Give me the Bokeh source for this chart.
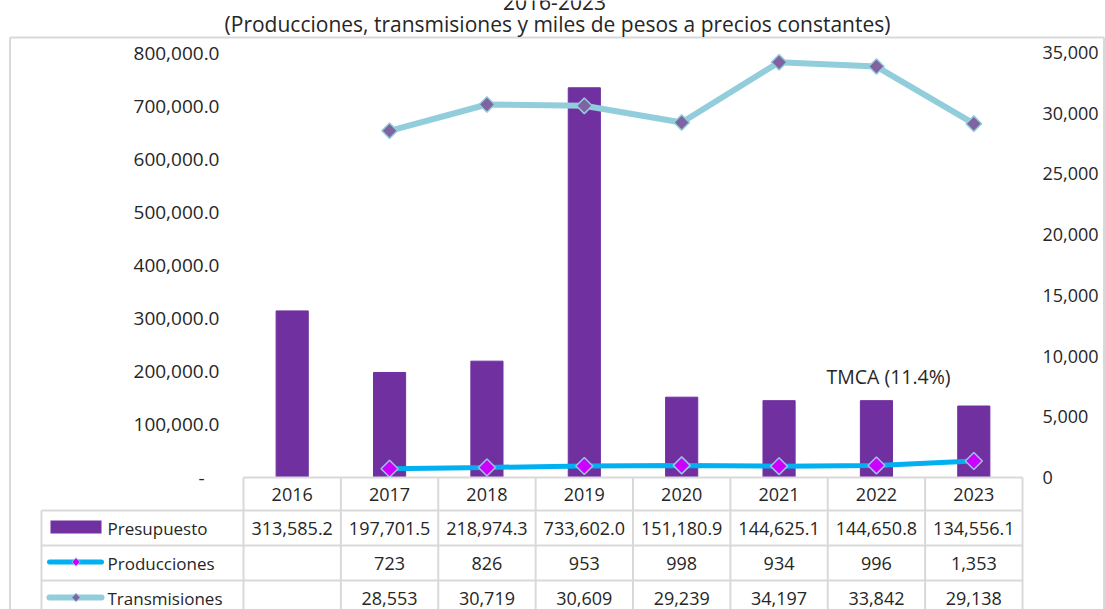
from bokeh.plotting import figure
from bokeh.models import Range1d, LinearAxis, FixedTicker, NumeralTickFormatter, ColumnDataSource
from bokeh.embed import file_html
from bokeh.resources import INLINE
from bokeh.core.properties import value

# ---------------- data ----------------
years = ["2016", "2017", "2018", "2019", "2020", "2021", "2022", "2023"]
presupuesto = [313585.2, 197701.5, 218974.3, 733602.0, 151180.9, 144625.1, 144650.8, 134556.1]
producciones = [None, 723, 826, 953, 998, 934, 996, 1353]
transmisiones = [None, 28553, 30719, 30609, 29239, 34197, 33842, 29138]
left_ticks = [0, 100000, 200000, 300000, 400000, 500000, 600000, 700000, 800000]
right_ticks = [0, 5000, 10000, 15000, 20000, 25000, 30000, 35000]
series_names = ["Presupuesto", "Producciones", "Transmisiones"]
title_text = "2016-2023"
subtitle_text = "(Producciones, transmisiones y miles de pesos a precios constantes)"
tmca_text = "TMCA (11.4%)"

# ---------------- style ----------------
FONT = "Open Sans"
TXT = "#262626"
GRID = "#D9D9D9"
C_BAR = "#7030A0"
C_PROD = "#00B0F0"
C_PROD_MK = "#CC00FF"
C_PROD_MK_LINE = "#9DC3E6"
C_TRANS = "#92CDDC"
C_TRANS_MK = "#8064A2"
FS = "18px"

W, H = 1105, 609
n = len(years)
PLOT_L, PLOT_R = 243, 1022        # pixel extent of the category area
PLOT_T, PLOT_B = 52, 477          # pixel extent of the value area
ppu = (PLOT_R - PLOT_L) / n
LMAX, RMAX = left_ticks[-1], right_ticks[-1]


def X(px):
    return (px - PLOT_L) / ppu


def Y(py):
    return (PLOT_B - py) * LMAX / (PLOT_B - PLOT_T)


def YR(py):
    return (PLOT_B - py) * RMAX / (PLOT_B - PLOT_T)


xs = [i + 0.5 for i in range(n)]

p = figure(width=W, height=H, x_range=Range1d(X(0), X(W)), y_range=Range1d(Y(H), Y(0)),
           x_axis_location=None, y_axis_location=None, min_border=0,
           output_backend="svg", toolbar_location=None, outline_line_color=None,
           background_fill_color="white", border_fill_color="white")
p.grid.visible = False
p.extra_y_ranges = {"right": Range1d(YR(H), YR(0))}

# ---------------- axes (fixed at the plot area edges) ----------------
yl = LinearAxis(ticker=FixedTicker(ticks=left_ticks),
                formatter=NumeralTickFormatter(format="0,0.0"),
                major_label_overrides={0: "-\u00a0\u00a0\u00a0"}, fixed_location=0)
yr = LinearAxis(y_range_name="right", ticker=FixedTicker(ticks=right_ticks),
                formatter=NumeralTickFormatter(format="0,0"), fixed_location=n)
for ax, so, fs in ((yl, 18, "19px"), (yr, 14, "18px")):
    ax.axis_line_color = None
    ax.major_tick_line_color = None
    ax.minor_tick_line_color = None
    ax.major_label_standoff = so
    ax.major_label_text_font = FONT
    ax.major_label_text_font_size = fs
    ax.major_label_text_color = TXT
p.add_layout(yl, "left")
p.add_layout(yr, "right")

# ---------------- outer border ----------------
bx0, bx1, by0 = X(9.5), X(1103.5), Y(37)
p.segment(x0=[bx0, bx1, bx0], y0=[by0, by0, by0], x1=[bx0, bx1, bx1], y1=[Y(H + 5), Y(H + 5), by0],
          line_color=GRID, line_width=2)

# ---------------- bars & lines ----------------
bar_src = ColumnDataSource(dict(x=xs, top=presupuesto))
p.vbar(x="x", top="top", bottom=0, width=0.33, source=bar_src, fill_color=C_BAR, line_color=C_BAR)

tx = [x for x, v in zip(xs, transmisiones) if v is not None]
tv = [v for v in transmisiones if v is not None]
px_ = [x for x, v in zip(xs, producciones) if v is not None]
pv = [v for v in producciones if v is not None]

p.line(tx, tv, y_range_name="right", line_color=C_TRANS, line_width=6)
p.scatter(tx, tv, y_range_name="right", marker="square", angle=0.785398, size=11,
          fill_color=C_TRANS_MK, line_color=C_TRANS, line_width=1.5)
p.line(px_, pv, y_range_name="right", line_color=C_PROD, line_width=5)
p.scatter(px_, pv, y_range_name="right", marker="square", angle=0.785398, size=12,
          fill_color=C_PROD_MK, line_color=C_PROD_MK_LINE, line_width=1.5)

# ---------------- texts ----------------
p.text(x=[X(557)], y=[Y(23)], text=[subtitle_text], text_align="center", text_baseline="middle",
       text_font=value(FONT), text_font_size="21px", text_color=TXT)
p.text(x=[X(554)], y=[Y(1)], text=[title_text], text_align="center", text_baseline="middle",
       text_font=value(FONT), text_font_size="21px", text_color=TXT)
p.text(x=[X(888)], y=[Y(376)], text=[tmca_text], text_align="center", text_baseline="middle",
       text_font=value(FONT), text_font_size="19.5px", text_color=TXT)

# ---------------- data table ----------------
hdr_top, hdr_bot = Y(477), Y(510)
row_edges = [Y(510), Y(545), Y(580)]
row_mid = [Y(527.5), Y(562.5), Y(597.5)]
tab_left = X(41)
bottom = Y(H + 5)

# header row: top line + separators
p.segment(x0=[0], y0=[hdr_top], x1=[n], y1=[hdr_top], line_color=GRID, line_width=2)
p.segment(x0=list(range(n + 1)), y0=[hdr_top] * (n + 1), x1=list(range(n + 1)),
          y1=[hdr_bot] * (n + 1), line_color=GRID, line_width=2)
# body rows
p.segment(x0=[tab_left] * len(row_edges), y0=row_edges, x1=[n] * len(row_edges), y1=row_edges,
          line_color=GRID, line_width=2)
vx = [tab_left] + list(range(n + 1))
p.segment(x0=vx, y0=[row_edges[0]] * len(vx), x1=vx, y1=[bottom] * len(vx),
          line_color=GRID, line_width=2)

p.text(x=xs, y=[Y(493.5)] * n, text=years, text_align="center", text_baseline="middle",
       text_font=value(FONT), text_font_size=FS, text_color=TXT)

cx, cy, ct = [], [], []
for r, vals in enumerate([presupuesto, producciones, transmisiones]):
    for i, v in enumerate(vals):
        if v is None:
            continue
        cx.append(xs[i])
        cy.append(row_mid[r])
        ct.append(f"{v:,.1f}" if r == 0 else f"{v:,}")
p.text(x=cx, y=cy, text=ct, text_align="center", text_baseline="middle",
       text_font=value(FONT), text_font_size=FS, text_color=TXT)

# legend keys
kx = X(75.5)
p.rect(x=[kx], y=[Y(526.5)], width=51 / ppu, height=Y(0) - Y(13), fill_color=C_BAR, line_color=None)
p.segment(x0=[X(49)], y0=[Y(561.5)], x1=[X(101)], y1=[Y(561.5)], line_color=C_PROD,
          line_width=5, line_cap="round")
p.scatter(x=[kx], y=[Y(561.5)], marker="square", angle=0.785398, size=6,
          fill_color=C_PROD_MK, line_color=C_PROD_MK_LINE, line_width=1)
p.segment(x0=[X(49)], y0=[Y(597)], x1=[X(101)], y1=[Y(597)], line_color=C_TRANS,
          line_width=6, line_cap="round")
p.scatter(x=[kx], y=[Y(597)], marker="square", angle=0.785398, size=6,
          fill_color=C_TRANS_MK, line_color=C_TRANS, line_width=1)

p.text(x=[X(107)] * 3, y=row_mid, text=series_names, text_align="left", text_baseline="middle",
       text_font=value(FONT), text_font_size="17px", text_color=TXT)

open("out.html", "w").write(file_html(p, INLINE))
